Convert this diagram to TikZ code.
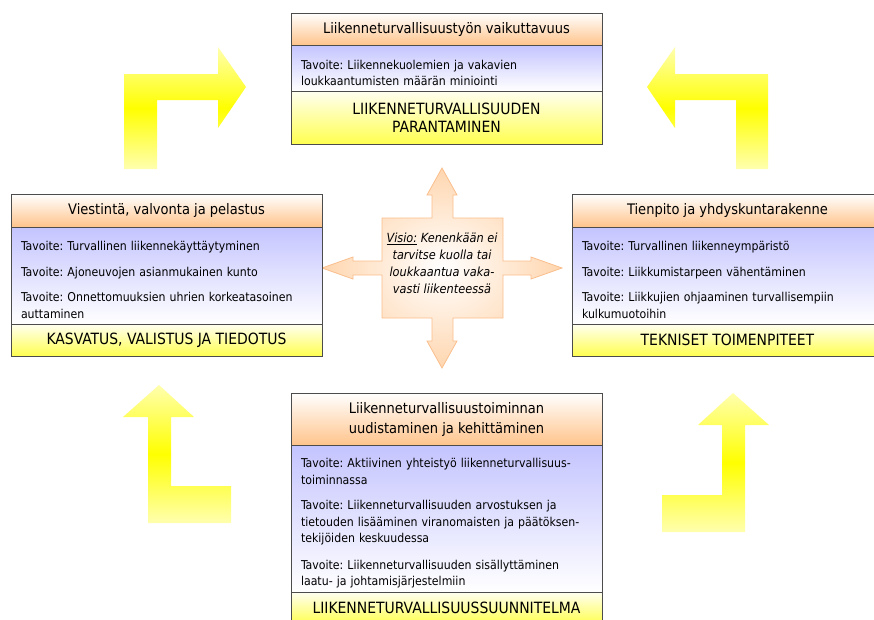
\documentclass[tikz,border=0pt]{standalone}
\usepackage{fontspec}
\setmainfont{DejaVu Sans Condensed}
\usetikzlibrary{positioning,shadings}
\frenchspacing
\definecolor{peach}{RGB}{255,196,140}
\definecolor{lavender}{RGB}{196,196,255}
\definecolor{lemon}{RGB}{255,255,80}
\definecolor{paleyellow}{RGB}{255,255,175}
\definecolor{starline}{RGB}{250,190,140}
\definecolor{starfill}{RGB}{255,214,175}

\begin{document}
\begin{tikzpicture}[x=1pt,y=-1pt,
                    box/.style={draw=black!70,line width=0.8pt,minimum width=311pt,outer sep=0pt},
                    head node/.style={box,top color=white,bottom color=peach,align=center,inner ysep=0pt,font=\fontsize{14.5}{20}\selectfont},
                    goal node/.style={box,top color=lavender,bottom color=white,text width=291pt,inner xsep=10pt,inner ysep=0pt,align=left,
                                      font=\fontsize{12.2}{16.5}\selectfont},
                    base node/.style={box,top color=white!60!lemon!20,bottom color=lemon,align=center,inner ysep=0pt,font=\fontsize{15.5}{18.5}\selectfont},
                    yellow arrow/.style={top color=paleyellow,bottom color=paleyellow,middle color=yellow},
                    star/.style={draw=starline,line width=0.8pt,inner color=white,outer color=starfill}]

  \useasboundingbox (0,0) rectangle (874,619);

  \path[yellow arrow] (124,169) -- (124,74) -- (218,74) -- (218,47) -- (246,87) -- (218,128) -- (218,100) -- (157,100) -- (157,169) -- cycle;
  \path[yellow arrow] (768,169) -- (768,74) -- (675,74) -- (675,47) -- (647,87) -- (675,128) -- (675,100) -- (736,100) -- (736,169) -- cycle;
  \path[yellow arrow] (148,523) -- (148,417) -- (123,417) -- (159,385) -- (194,417) -- (171,417) -- (171,486) -- (231,486) -- (231,523) -- cycle;
  \path[yellow arrow] (745,532) -- (745,425) -- (769,425) -- (733,393) -- (698,425) -- (722,425) -- (722,495) -- (662,495) -- (662,532) -- cycle;

  \draw[star] (382,218) -- (432,218) -- (432,195) -- (427,195) -- (442,168) -- (457,195) -- (453,195) -- (453,218)
              -- (503,218) -- (503,261) -- (531,261) -- (531,257) -- (562,268) -- (531,279) -- (531,275) -- (503,275)
              -- (503,318) -- (453,318) -- (453,341) -- (457,341) -- (442,368) -- (427,341) -- (432,341) -- (432,318)
              -- (382,318) -- (382,275) -- (353,275) -- (353,279) -- (322,268) -- (353,257) -- (353,261) -- (382,261) -- cycle;
  \node[align=center,font=\fontsize{12.6}{17}\selectfont\itshape] (visio) at (442,263)
       {\underline{Visio:} Kenenkään ei\\tarvitse kuolla tai\\loukkaantua vaka-\\vasti liikenteessä};

  \node[head node,minimum height=32pt,anchor=north west] (h1) at (291,13) {Liikenneturvallisuustyön vaikuttavuus};
  \node[goal node,minimum height=46pt,below=0pt of h1] (g1) {\rule{0pt}{19pt}Tavoite: Liikennekuolemien ja vakavien\\loukkaantumisten määrän miniointi};
  \node[base node,minimum height=53pt,below=0pt of g1] (b1) {LIIKENNETURVALLISUUDEN\\PARANTAMINEN};

  \node[head node,minimum height=33pt,anchor=north west] (h2) at (11,194) {Viestintä, valvonta ja pelastus};
  \node[goal node,minimum height=97pt,below=0pt of h2] (g2) {\rule{0pt}{18pt}Tavoite: Turvallinen liikennekäyttäytyminen\\[9pt]
        Tavoite: Ajoneuvojen asianmukainen kunto\\[9pt]Tavoite: Onnettomuuksien uhrien korkeatasoinen\\auttaminen};
  \node[base node,minimum height=32pt,below=0pt of g2] (b2) {KASVATUS, VALISTUS JA TIEDOTUS};

  \node[head node,minimum height=33pt,anchor=north west] (h3) at (572,194) {Tienpito ja yhdyskuntarakenne};
  \node[goal node,minimum height=97pt,below=0pt of h3] (g3) {\rule{0pt}{18pt}Tavoite: Turvallinen liikenneympäristö\\[9pt]
        Tavoite: Liikkumistarpeen vähentäminen\\[9pt]Tavoite: Liikkujien ohjaaminen turvallisempiin\\kulkumuotoihin};
  \node[base node,minimum height=32pt,below=0pt of g3] (b3) {TEKNISET TOIMENPITEET};

  \node[head node,minimum height=52pt,anchor=north west] (h4) at (291,393) {Liikenneturvallisuustoiminnan\\uudistaminen ja kehittäminen};
  \node[goal node,minimum height=147pt,below=0pt of h4] (g4) {\rule{0pt}{19pt}Tavoite: Aktiivinen yhteistyö liikenneturvallisuus-\\toiminnassa\\[9pt]
        Tavoite: Liikenneturvallisuuden arvostuksen ja\\tietouden lisääminen viranomaisten ja päätöksen-\\tekijöiden keskuudessa\\[10pt]
        Tavoite: Liikenneturvallisuuden sisällyttäminen\\laatu- ja johtamisjärjestelmiin};
  \node[base node,minimum height=32pt,below=0pt of g4] (b4) {LIIKENNETURVALLISUUSSUUNNITELMA};
\end{tikzpicture}
\end{document}
